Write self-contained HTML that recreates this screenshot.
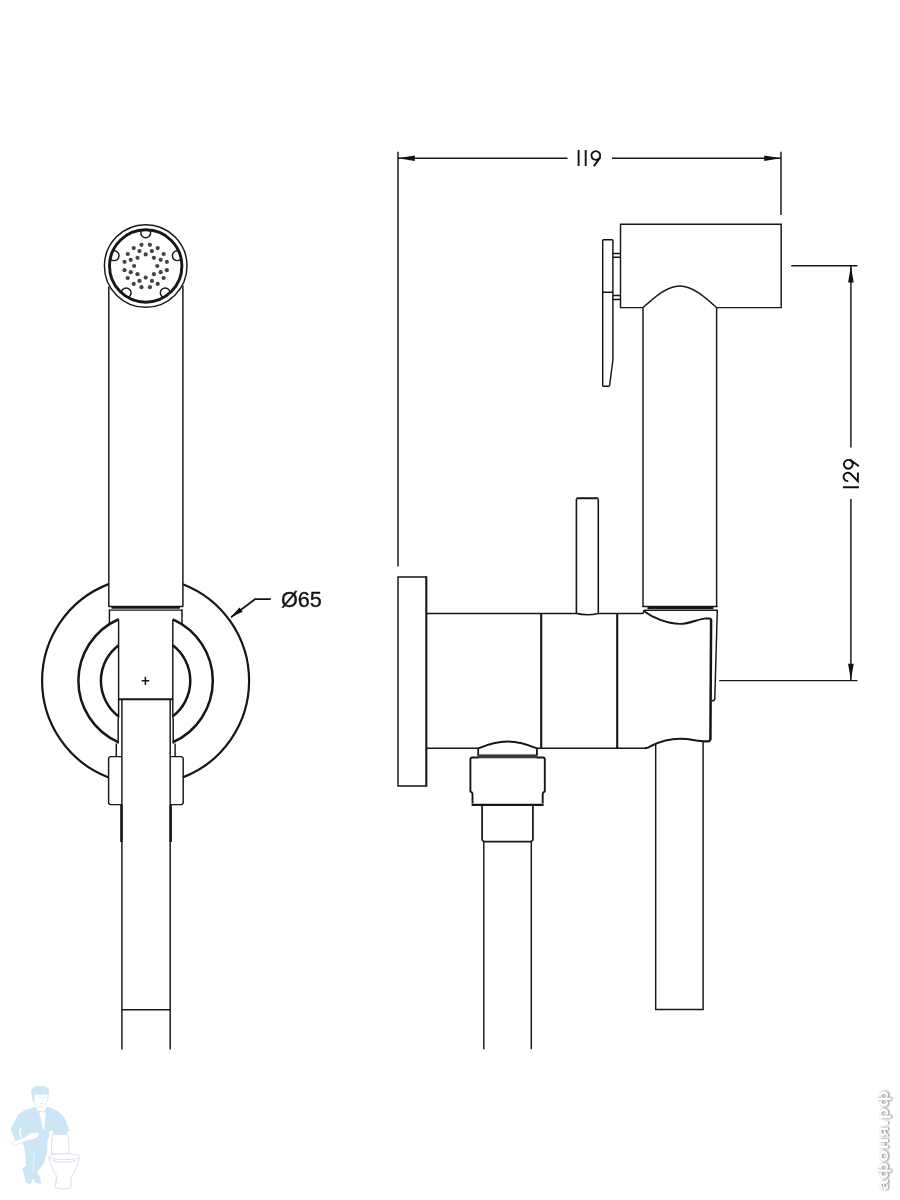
<!DOCTYPE html>
<html><head><meta charset="utf-8"><title>drawing</title>
<style>
html,body{margin:0;padding:0;background:#fff;}
body{width:900px;height:1200px;overflow:hidden;font-family:"Liberation Sans",sans-serif;}
svg{display:block}
.l{fill:none;stroke:#161616;stroke-width:1.45;stroke-linecap:butt;stroke-linejoin:miter}
.t{fill:none;stroke:#161616;stroke-width:2.4;stroke-linecap:butt}
.m{fill:none;stroke:#161616;stroke-width:2.1;stroke-linecap:butt}
.c1{fill:none;stroke:#161616;stroke-width:2.2}
.c2{fill:none;stroke:#161616;stroke-width:2.5}
.d{fill:none;stroke:#161616;stroke-width:1.5}
.g{fill:none;stroke:#111;stroke-width:1.9;stroke-linecap:butt;stroke-linejoin:miter}
.a{fill:#111;stroke:none}
</style></head><body>
<svg width="900" height="1200" viewBox="0 0 900 1200">
<rect width="900" height="1200" fill="#fff"/>

<g id="left">
<circle class="l" cx="145.7" cy="266.0" r="41.3"/>
<clipPath id="nc"><circle cx="145.7" cy="266.0" r="36.4"/></clipPath><g clip-path="url(#nc)">
<circle class="l" cx="145.70" cy="232.80" r="4.9" fill="#fff"/>
<circle class="l" cx="177.28" cy="255.74" r="4.9" fill="#fff"/>
<circle class="l" cx="165.21" cy="292.86" r="4.9" fill="#fff"/>
<circle class="l" cx="126.19" cy="292.86" r="4.9" fill="#fff"/>
<circle class="l" cx="114.12" cy="255.74" r="4.9" fill="#fff"/>
</g>
<circle cx="145.7" cy="266.0" r="36.2" fill="none" stroke="#161616" stroke-width="2.9"/>
<circle cx="157.30" cy="266.00" r="2.1" fill="#444"/>
<circle cx="153.90" cy="274.20" r="2.1" fill="#444"/>
<circle cx="145.70" cy="277.60" r="2.1" fill="#444"/>
<circle cx="137.50" cy="274.20" r="2.1" fill="#444"/>
<circle cx="134.10" cy="266.00" r="2.1" fill="#444"/>
<circle cx="137.50" cy="257.80" r="2.1" fill="#444"/>
<circle cx="145.70" cy="254.40" r="2.1" fill="#444"/>
<circle cx="153.90" cy="257.80" r="2.1" fill="#444"/>
<circle cx="160.67" cy="272.20" r="2.1" fill="#444"/>
<circle cx="151.90" cy="280.97" r="2.1" fill="#444"/>
<circle cx="139.50" cy="280.97" r="2.1" fill="#444"/>
<circle cx="130.73" cy="272.20" r="2.1" fill="#444"/>
<circle cx="130.73" cy="259.80" r="2.1" fill="#444"/>
<circle cx="139.50" cy="251.03" r="2.1" fill="#444"/>
<circle cx="151.90" cy="251.03" r="2.1" fill="#444"/>
<circle cx="160.67" cy="259.80" r="2.1" fill="#444"/>
<circle cx="166.88" cy="270.21" r="2.1" fill="#444"/>
<circle cx="163.66" cy="278.00" r="2.1" fill="#444"/>
<circle cx="157.70" cy="283.96" r="2.1" fill="#444"/>
<circle cx="149.91" cy="287.18" r="2.1" fill="#444"/>
<circle cx="141.49" cy="287.18" r="2.1" fill="#444"/>
<circle cx="133.70" cy="283.96" r="2.1" fill="#444"/>
<circle cx="127.74" cy="278.00" r="2.1" fill="#444"/>
<circle cx="124.52" cy="270.21" r="2.1" fill="#444"/>
<circle cx="124.52" cy="261.79" r="2.1" fill="#444"/>
<circle cx="127.74" cy="254.00" r="2.1" fill="#444"/>
<circle cx="133.70" cy="248.04" r="2.1" fill="#444"/>
<circle cx="141.49" cy="244.82" r="2.1" fill="#444"/>
<circle cx="149.91" cy="244.82" r="2.1" fill="#444"/>
<circle cx="157.70" cy="248.04" r="2.1" fill="#444"/>
<circle cx="163.66" cy="254.00" r="2.1" fill="#444"/>
<circle cx="166.88" cy="261.79" r="2.1" fill="#444"/>
<path class="l" d="M108.8,286.5 V606.5 M182.9,285.5 V606.5"/>
<path class="l" d="M108.3,606.4 H183.2"/>
<path class="t" style="stroke-width:1.9" d="M111.5,607.9 H179.8"/>
<path class="l" style="stroke-width:1.2" d="M108.9,610.1 H182.6"/>
<path class="l" d="M109.4,609.5 V624 M182,609.5 V624"/>
<path class="c1" d="M108.6,584.14 A103.5,103.5 0 0 0 108.6,777.46"/>
<path class="c1" d="M182.8,584.22 A103.5,103.5 0 0 1 182.8,777.38"/>
<path class="c2" d="M118.6,619.26 A67.2,67.2 0 0 0 118.6,742.34"/>
<path class="c2" d="M172.8,619.35 A67.2,67.2 0 0 1 172.8,742.25"/>
<path class="c2" d="M118.6,645.18 A44.7,44.7 0 0 0 118.6,716.42"/>
<path class="c2" d="M172.8,645.33 A44.7,44.7 0 0 1 172.8,716.27"/>
<path class="l" d="M118.6,619.5 V718 M172.8,619.5 V718"/>
<path class="m" d="M118.6,699.2 H172.8"/>
<path class="d" d="M141.7,680.8 H149.2 M145.4,676.8 V684.9"/>
<path class="l" d="M121.9,699.5 V1049.5 M170.2,699.5 V1049.5 M121.9,1009.8 H170.2"/>
<path class="t" d="M121.4,804.8 V842 M170.7,804.8 V842"/>
<path class="l" d="M118.2,718 V743.5 M173.2,718 V743.5"/>
<path class="l" d="M116.3,743.5 V756.6 M175.1,743.5 V756.6"/>
<path class="l" d="M121.9,756.6 H110.2 L108.6,758.2 V803.2 L110,804.6 H121.9"/>
<path class="l" d="M170.2,756.6 H181.6 L183.2,758.2 V803.2 L181.8,804.6 H170.2"/>
<path class="l" style="stroke-width:1.7" d="M231,617.2 L255,599.2 H270.8"/>
<path class="a" d="M230.7,617.3 L239.5,607.4 L242.7,611.7 Z"/>
<g style="filter:grayscale(1)"><text x="280.9" y="607" font-family="Liberation Sans, sans-serif" font-size="21.7" fill="#111" stroke="#111" stroke-width="0.3">Ø65</text></g>
</g>
<g id="right">
<path class="l" d="M398,151.7 V566.6 M781,151.7 V215"/>
<path class="l" d="M398,158.2 H567.5 M612,158.2 H781"/>
<path class="a" d="M398,158.2 L414.8,155.4 V161 Z M781,158.2 L764.2,155.4 V161 Z"/>
<path class="g" transform="translate(578.6,166.1)" d="M0,-16 V0 M7.1,-16 V0 M17.2,-15.0 a4.4,4.4 0 1 0 0.01,0 Z M21.9,-9 L15.299999999999999,0"/>
<path class="g" transform="translate(858.9,487.2) rotate(-90)" d="M0,-16 V0 M6.1000000000000005,-10.6 A4.2,4.2 0 1 1 13.399999999999999,-8.4 L6.0,-1 H14.8 M22.9,-15.0 a4.4,4.4 0 1 0 0.01,0 Z M27.599999999999998,-9 L21.0,0"/>
<path class="l" d="M791.2,265.8 H857.4 M719.2,680.6 H857.4"/>
<path class="l" d="M850.9,265.8 V447.6 M850.9,499 V680.6"/>
<path class="a" d="M850.9,265.8 L848.1,282.6 H853.7 Z M850.9,680.6 L848.1,663.8 H853.7 Z"/>
<path class="l" d="M643,307.6 H620.5 V224.3 H781.2 V307.6 H716.6"/>
<path class="l" d="M643,607 V307.6 C655,296.8 667,285.9 679.8,285.9 C692.6,285.9 704.6,296.8 716.6,307.6 V607"/>
<path class="l" d="M603.4,239.7 H612 Q612.9,239.7 612.9,240.6 V360 L609.6,385.4 Q609.5,386.2 608.6,386.2 H603.6 Q602.7,386.2 602.7,385.4 V240.6 Q602.7,239.7 603.4,239.7 Z M602.7,292.2 H612.9"/>
<path class="l" d="M612.9,253.4 H620.5 M612.9,257.2 H620.5 M612.9,295.5 H620.5 M612.9,299.4 H620.5"/>
<path class="l" d="M642.4,606.4 H717.6"/>
<path class="t" style="stroke-width:2" d="M647.5,607.9 H713.5"/>
<path class="l" d="M426.2,576.9 H398 V786 H426.2"/>
<path class="m" d="M426.3,576.2 V786.7"/>
<path class="l" d="M427,613.4 H576.4 M598.3,613.4 H643.2"/>
<path class="l" d="M427,748.2 H478.2 M536.9,748.2 H647"/>
<path class="m" d="M541.2,613.2 V748.2 M617.2,613.2 V748.2"/>
<path class="l" style="stroke-width:1.6" d="M576.4,613.4 V499 M598.3,499 V613.4 M576.4,613.4 Q587.4,616.2 598.3,613.4"/>
<path class="m" style="stroke-linecap:round" d="M577.2,498.2 H597.5"/>
<path class="l" d="M643.2,613.4 Q643.3,610.3 645,610.2 H717.3 L714.8,698.6 Q714.6,700.8 711.8,700.8"/>
<path class="m" style="stroke-width:1.9" d="M644,611.2 C652,617 666,623.9 680,623.9 C690,623.9 699,618.6 706,618.4 L709.4,618.5 Q711.2,618.7 711.2,620.4"/>
<path class="m" style="stroke-width:2.5" d="M711.1,619.6 L710.4,739.6"/>
<path class="m" style="stroke-width:2.1" d="M710.4,738.6 Q710.3,741.4 708,741.4 H705 C698,741.4 690,738.8 680,738.8 C668,738.8 658,742.5 651,746 Q648,748.2 645,748.2"/>
<path class="l" d="M655.7,744 V1009.5 H703.1 V741.2"/>
<path class="l" style="stroke-width:1.8" d="M478.2,748.4 C490,743.4 498,741.5 507.5,741.5 C517,741.5 525,743.4 536.9,748.4 M478.2,748.4 V755.5 M536.9,748.4 V755.5"/>
<rect x="477.6" y="754.4" width="59.9" height="3.9" fill="#3a3a3a"/>
<path class="l" style="stroke-width:1.9" d="M478.2,757.5 H472.4 Q470.4,757.7 470.4,759.4 V791.3 Q472.5,792.4 472.5,794 V803.5 M536.9,757.5 H542.8 Q544.8,757.7 544.8,759.4 V791.3 Q542.7,792.4 542.7,794 V803.5"/>
<path class="t" d="M471.6,804.9 H543.6"/>
<path class="l" style="stroke-width:1.7" d="M482.1,805 V840 L483.8,841.6 H531.2 L532.9,840 V805"/>
<path class="l" d="M483.8,841.6 V1049.3 M531.3,841.6 V1049.3"/>
</g>
<g id="wm">
<g fill="#cde6f6" stroke="none">
<path d="M31.6,1095 C30.3,1088.5 33,1086 40,1086 C46.5,1086 49.8,1087.5 49.1,1093 L48.3,1099 L47.4,1094 L35.2,1094.6 L34.2,1102 L32.6,1101.5 Z"/>
<path d="M35.5,1106.5 L24,1110.5 L18,1115 L10.5,1129 L16,1142.5 L21,1141 L24,1146.5 L25,1152 L26,1166 L22,1168.5 L24.5,1176 L26,1183 L31,1184 L33,1178 L35,1183 L41.5,1183.5 L40,1177 L37,1172 L44,1163 L47,1152 L47.5,1140 L50,1135.5 L52,1134 L66,1134.5 L69.5,1130 L64,1117 L58,1111 L47,1106.5 L44,1111.5 L41,1112.5 L38,1111 Z"/>
</g>
<path d="M34.2,1094.6 V1102 Q35.2,1106.6 40.4,1107 Q45.6,1106.8 47.4,1101 V1094.2 Z" fill="#fff" stroke="#cfe5f4" stroke-width="0.7"/>
<path d="M38.8,1097.5 h2 M43.5,1097.5 h2 M42.8,1098.5 v3 M39.5,1103.6 h4.5" stroke="#cfe5f4" stroke-width="0.8" fill="none"/>
<path d="M38.6,1109.5 L41.5,1112 L44.6,1109.5 L45.6,1114 L44.6,1128 L43,1130.5 L41,1120 Z" fill="#fff"/>
<path d="M39,1110.5 l2.5,1 l2.8,-1 v2 l-2.8,-0.8 l-2.5,0.8 Z" fill="#cde6f6"/>
<path d="M11.2,1143 L14,1145.8 L27,1140.5 L33,1139.5 L38,1137.5 L39.5,1133.5 L36,1132 L30,1133 L26,1136.5 L14.5,1141.2 Z" fill="#fff" stroke="#d4e3f1" stroke-width="0.7"/>
<path d="M20.5,1128 Q19,1133 21.5,1137" fill="none" stroke="#fff" stroke-width="1.6"/>
<path d="M34.5,1152 L33,1172" fill="none" stroke="#e6f2fa" stroke-width="1.2"/>
<path d="M49,1132 Q51.5,1129.5 53.5,1131.5 L52,1136 L49.5,1139 Z" fill="#fff"/>
<g fill="#fff" stroke="#d7daeb" stroke-width="0.9">
<path d="M52,1135.2 Q52,1134.4 53,1134.4 H67 Q68,1134.4 68.1,1135.5 L69.2,1153.8 H51.4 Z"/>
<path d="M48.8,1157.5 Q51.5,1169.5 57,1176.5 L55,1187 Q63,1190.8 71,1187.6 L71,1178.5 Q77.5,1168 79.6,1157.5 Z"/>
<ellipse cx="64.2" cy="1156.6" rx="15.5" ry="3.1"/>
<path d="M52.5,1160.5 Q64,1164.5 76,1160.2" fill="none"/>
<path d="M57,1176.5 Q54,1181 58.5,1183.5" fill="none"/>
</g>
</g>
<defs><filter id="sh" x="-30%" y="-30%" width="160%" height="160%" color-interpolation-filters="sRGB"><feGaussianBlur in="SourceAlpha" stdDeviation="1.15" result="b"/><feOffset in="b" dx="0.8" dy="0.3" result="o"/><feComponentTransfer in="o" result="s"><feFuncA type="linear" slope="0.62"/></feComponentTransfer><feMerge><feMergeNode in="s"/><feMergeNode in="SourceGraphic"/></feMerge></filter></defs>
<g filter="url(#sh)" font-family="Liberation Sans, sans-serif" font-size="14.5" font-weight="bold" letter-spacing="0.5">
<text transform="translate(888,1190.3) rotate(-90) scale(1.32,1)" fill="#fff">афоня.рф</text>
</g>
</svg></body></html>
